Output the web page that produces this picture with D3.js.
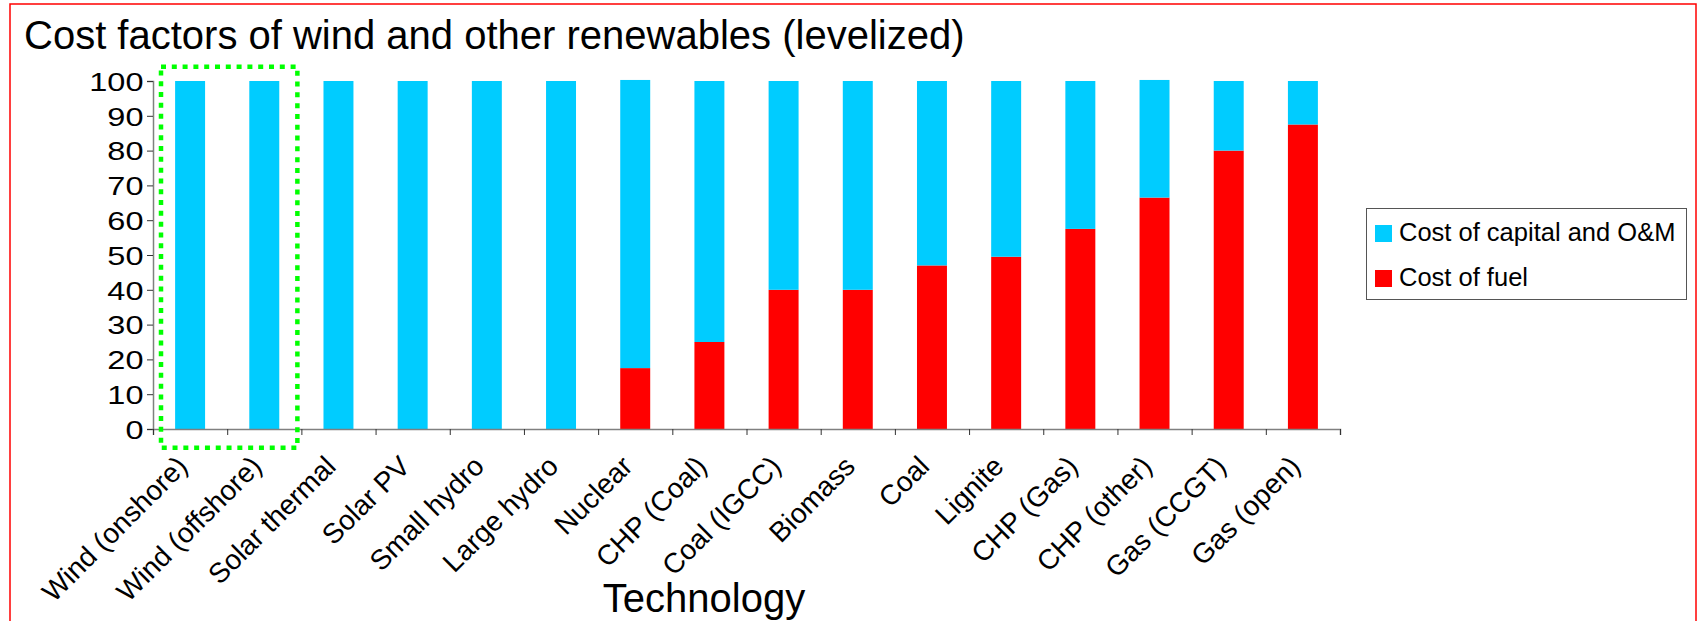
<!DOCTYPE html>
<html>
<head>
<meta charset="utf-8">
<script src="https://cdn.jsdelivr.net/npm/d3@7"></script>
<style>
  html, body { margin: 0; padding: 0; background: #fff; }
  svg { display: block; }
  text { font-family: "Liberation Sans", Arial, sans-serif; fill: #000; }
</style>
</head>
<body>
<svg id="chart" width="1698" height="621"></svg>
<script>
// ---- data ----
const categories = ["Wind (onshore)", "Wind (offshore)", "Solar thermal", "Solar PV", "Small hydro",
  "Large hydro", "Nuclear", "CHP (Coal)", "Coal (IGCC)", "Biomass", "Coal", "Lignite",
  "CHP (Gas)", "CHP (other)", "Gas (CCGT)", "Gas (open)"];
const costOfFuel = [0, 0, 0, 0, 0, 0, 17.5, 25, 40, 40, 47, 49.5, 57.5, 66.5, 80, 87.5];
const costOfCapital = [100, 100, 100, 100, 100, 100, 82.8, 75, 60, 60, 53, 50.5, 42.5, 33.8, 20, 12.5];
const seriesNames = ["Cost of capital and O&M", "Cost of fuel"];
const seriesColors = ["#00CCFF", "#FF0000"];
const yTicks = [0, 10, 20, 30, 40, 50, 60, 70, 80, 90, 100];
const highlighted = ["Wind (onshore)", "Wind (offshore)"];
const titleText = "Cost factors of wind and other renewables (levelized)";
const xTitle = "Technology";

// ---- layout ----
const svg = d3.select("#chart");
const plot = { left: 153, right: 1340, top: 81, bottom: 429 };

// frame border
svg.append("rect")
  .attr("x", 10).attr("y", 4).attr("width", 1686).attr("height", 700)
  .attr("fill", "none").attr("stroke", "#FF0000").attr("stroke-width", 1.5);

const x = d3.scaleBand().domain(categories)
  .range([plot.left, plot.right]).paddingInner(0.596).paddingOuter(0.298);
const xEdges = d3.scaleLinear().domain([0, categories.length]).range([plot.left, plot.right]);
const y = d3.scaleLinear().domain([0, 100]).range([plot.bottom, plot.top]);

// stacked data
const rows = categories.map((c, i) => ({ cat: c, fuel: costOfFuel[i], capital: costOfCapital[i] }));
const stack = d3.stack().keys(["fuel", "capital"]);
const layers = stack(rows);
const colorFor = { fuel: seriesColors[1], capital: seriesColors[0] };

svg.append("g").selectAll("g").data(layers).join("g")
  .attr("fill", d => colorFor[d.key])
  .selectAll("rect").data(d => d).join("rect")
  .attr("x", d => x(d.data.cat))
  .attr("width", x.bandwidth())
  .attr("y", d => y(d[1]))
  .attr("height", d => Math.max(0, y(d[0]) - y(d[1])));

// y axis
const yScaleX = 1.25;
const yAxis = svg.append("g").attr("transform", `translate(${plot.left},0)`)
  .call(d3.axisLeft(y).tickValues(yTicks).tickSize(6).tickPadding(3));
yAxis.select(".domain").attr("stroke", "#808080").attr("stroke-width", 1.5);
yAxis.selectAll(".tick line").attr("stroke", "#333");
yAxis.selectAll(".tick text").attr("font-size", 26).attr("font-family", "Liberation Sans, Arial, sans-serif")
  .attr("fill", "#000").attr("dy", "0.36em")
  .attr("x", -9.5 / yScaleX)
  .attr("transform", `scale(${yScaleX},1)`);

// x axis boundaries with ticks
const xAxisEdges = svg.append("g").attr("transform", `translate(0,${plot.bottom})`)
  .call(d3.axisBottom(xEdges).tickValues(d3.range(categories.length + 1)).tickSize(6).tickFormat(""));
xAxisEdges.select(".domain").attr("stroke", "#808080").attr("stroke-width", 1.5);
xAxisEdges.selectAll(".tick line").attr("stroke", "#333");

// x labels
const xAxisLabels = svg.append("g").attr("transform", `translate(0,${plot.bottom})`)
  .call(d3.axisBottom(x).tickSize(0));
xAxisLabels.select(".domain").remove();
xAxisLabels.selectAll(".tick text")
  .attr("font-size", 28).attr("font-family", "Liberation Sans, Arial, sans-serif").attr("fill", "#000")
  .attr("x", 0).attr("y", 0).attr("dy", 0)
  .attr("text-anchor", "end")
  .attr("transform", "translate(-1,39) rotate(-45)");

// highlight box around wind
svg.append("rect")
  .attr("x", xEdges(0) + 8).attr("y", 66.7)
  .attr("width", xEdges(categories.indexOf(highlighted[1]) + 1) - xEdges(0) - 12)
  .attr("height", 447.7 - 66.7)
  .attr("fill", "none").attr("stroke", "#00FF00").attr("stroke-width", 4.5)
  .attr("stroke-dasharray", "5,5.8");

// titles
svg.append("text").attr("x", 24).attr("y", 49).attr("font-size", 40).text(titleText);
svg.append("text").attr("x", 704).attr("y", 612).attr("font-size", 40)
  .attr("text-anchor", "middle").text(xTitle);

// legend
const lg = svg.append("g");
lg.append("rect").attr("x", 1366.5).attr("y", 208.5).attr("width", 320).attr("height", 91)
  .attr("fill", "#fff").attr("stroke", "#555").attr("stroke-width", 1);
seriesNames.forEach((n, i) => {
  lg.append("rect").attr("x", 1375).attr("y", 225 + i * 45).attr("width", 17).attr("height", 17)
    .attr("fill", seriesColors[i]);
  lg.append("text").attr("x", 1399).attr("y", 241 + i * 45).attr("font-size", 25.5).text(n);
});
</script>
</body>
</html>
